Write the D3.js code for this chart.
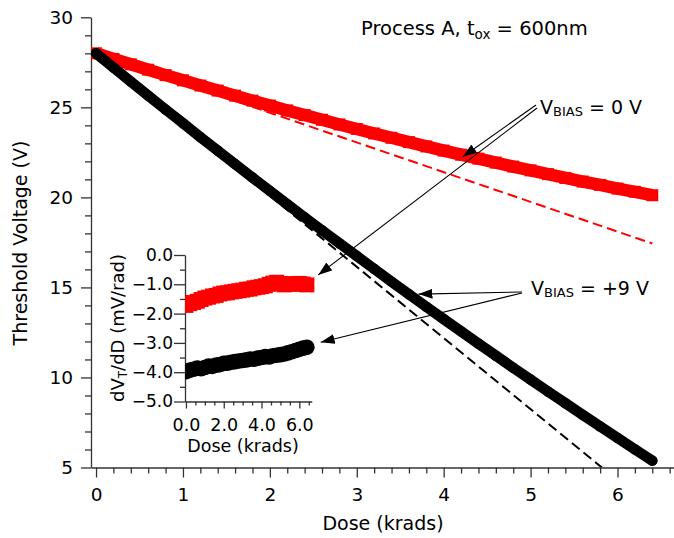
<!DOCTYPE html>
<html>
<head>
<meta charset="utf-8">
<script src="https://cdn.jsdelivr.net/npm/d3@7"></script>
<style>
  body { margin: 0; background: #fff; }
  svg { display: block; }
  text { font-family: "DejaVu Sans", Verdana, sans-serif; fill: #000; }
</style>
</head>
<body>
<svg id="chart" width="674" height="538"></svg>
<script>
// ---- Threshold voltage vs. total dose (krads) ----
const dose = [0.0, 0.2, 0.4, 0.6, 0.8, 1.0, 1.2, 1.4, 1.6, 1.8, 2.0, 2.2, 2.4, 2.6, 2.8, 3.0,
              3.2, 3.4, 3.6, 3.8, 4.0, 4.2, 4.4, 4.6, 4.8, 5.0, 5.2, 5.4, 5.6, 5.8, 6.0, 6.2, 6.4];

// V_BIAS = 0 V (red)
const vtBias0 = [28.00, 27.69, 27.39, 27.09, 26.79, 26.50, 26.21, 25.93, 25.65, 25.37, 25.10,
                 24.83, 24.57, 24.31, 24.05, 23.80, 23.55, 23.31, 23.07, 22.83, 22.60, 22.37,
                 22.15, 21.93, 21.71, 21.50, 21.29, 21.08, 20.88, 20.69, 20.49, 20.31, 20.12];

// V_BIAS = +9 V (black)
const vtBias9 = [28.00, 27.21, 26.43, 25.65, 24.88, 24.12, 23.35, 22.60, 21.85, 21.10, 20.36,
                 19.62, 18.89, 18.17, 17.45, 16.74, 16.03, 15.32, 14.62, 13.93, 13.24, 12.56,
                 11.88, 11.21, 10.54, 9.88, 9.22, 8.57, 7.92, 7.28, 6.64, 6.01, 5.38];

// Initial-slope linear fits (dashed)
const fitDose0 = [0, 6.4];
const fitVt0   = [28.0, 17.44];
const fitDose9 = [0, 5.82];
const fitVt9   = [28.0, 5.0];

// ---- Inset: dVT/dD (mV/rad) vs. dose ----
const slopeBias0 = [-1.72, -1.66, -1.62, -1.58, -1.52, -1.47, -1.44, -1.40, -1.38, -1.33, -1.30,
                    -1.29, -1.26, -1.24, -1.22, -1.20, -1.17, -1.16, -1.12, -1.10, -1.08, -1.05,
                    -1.00, -0.96, -0.93, -0.97, -1.02, -0.99, -0.98, -1.00, -0.97, -0.99, -1.02];
const slopeBias9 = [-3.98, -3.93, -3.90, -3.86, -3.88, -3.84, -3.79, -3.80, -3.76, -3.74, -3.70,
                    -3.69, -3.66, -3.64, -3.62, -3.60, -3.58, -3.55, -3.56, -3.52, -3.50, -3.47,
                    -3.48, -3.44, -3.42, -3.40, -3.38, -3.34, -3.30, -3.26, -3.22, -3.18, -3.15];

// Tick values
const mainXTicks = [0, 1, 2, 3, 4, 5, 6];
const mainXMinor = d3.range(0, 34).map(i => +(i * 0.2).toFixed(1));
const mainYTicks = [5, 10, 15, 20, 25, 30];
const mainYMinor = d3.range(5, 31);
const insetXTicks = [0, 2, 4, 6];
const insetXMinor = d3.range(0, 14).map(i => i * 0.5);
const insetYTicks = [0, -1, -2, -3, -4, -5];
const insetYMinor = d3.range(0, 11).map(i => -i * 0.5);

const RED = "#ff0000", BLACK = "#000000";

const svg = d3.select("#chart");

// ---------- main scales ----------
const x = d3.scaleLinear().domain([-0.058, 6.65]).range([91, 674]);
const y = d3.scaleLinear().domain([5, 30]).range([467.5, 17.3]);

const defs = svg.append("defs");
defs.append("clipPath").attr("id", "mainClip")
  .append("rect").attr("x", 91).attr("y", 10).attr("width", 583).attr("height", 457.5);
defs.append("marker")
  .attr("id", "arrowHead")
  .attr("markerUnits", "userSpaceOnUse")
  .attr("viewBox", "0 0 14 10")
  .attr("refX", 14).attr("refY", 5)
  .attr("markerWidth", 14).attr("markerHeight", 10)
  .attr("orient", "auto")
  .append("path").attr("d", "M0,0 L14,5 L0,10 Z").attr("fill", BLACK);

// axes
function styleAxis(g) {
  g.selectAll("path.domain").attr("stroke", "#333").attr("stroke-width", 1.3);
  g.selectAll(".tick line").attr("stroke", "#333").attr("stroke-width", 1.3);
  g.selectAll("text").attr("fill", "#000");
}

svg.append("g").attr("transform", `translate(0,${y(5)})`)
  .call(d3.axisBottom(x).tickValues(mainXTicks).tickSize(10).tickPadding(10)
        .tickSizeOuter(0).tickFormat(d3.format("d")))
  .call(g => g.selectAll("text").attr("font-size", 18.5))
  .call(styleAxis);
svg.append("g").attr("transform", `translate(0,${y(5)})`)
  .call(d3.axisBottom(x).tickValues(mainXMinor.filter(v => !mainXTicks.includes(v)))
        .tickSize(6).tickFormat(""))
  .call(g => g.select("path.domain").remove())
  .call(styleAxis);

svg.append("g").attr("transform", `translate(${x.range()[0]},0)`)
  .call(d3.axisLeft(y).tickValues(mainYTicks).tickSize(10).tickPadding(8)
        .tickSizeOuter(0).tickFormat(d3.format("d")))
  .call(g => g.selectAll("text").attr("font-size", 18.5))
  .call(styleAxis);
svg.append("g").attr("transform", `translate(${x.range()[0]},0)`)
  .call(d3.axisLeft(y).tickValues(mainYMinor.filter(v => !mainYTicks.includes(v)))
        .tickSize(6).tickFormat(""))
  .call(g => g.select("path.domain").remove())
  .call(styleAxis);

// axis titles
svg.append("text").attr("x", 383).attr("y", 530).attr("text-anchor", "middle")
  .attr("font-size", 19).text("Dose (krads)");
svg.append("text").attr("transform", "translate(27,243) rotate(-90)")
  .attr("text-anchor", "middle").attr("font-size", 19).text("Threshold Voltage (V)");

// ---------- main data ----------
const plot = svg.append("g").attr("clip-path", "url(#mainClip)");
const line = d3.line().x(d => x(d[0])).y(d => y(d[1]));

// dashed fits
plot.append("path").datum(d3.zip(fitDose0, fitVt0)).attr("d", line)
  .attr("fill", "none").attr("stroke", RED).attr("stroke-width", 2).attr("stroke-dasharray", "10,5");
plot.append("path").datum(d3.zip(fitDose9, fitVt9)).attr("d", line)
  .attr("fill", "none").attr("stroke", BLACK).attr("stroke-width", 2).attr("stroke-dasharray", "10,5");

// V_BIAS = 0 V : square markers joined into a band
const red = d3.zip(dose, vtBias0);
plot.append("path").datum(red).attr("d", line)
  .attr("fill", "none").attr("stroke", RED).attr("stroke-width", 12.5);
plot.selectAll("rect.red").data(red).join("rect").attr("class", "red")
  .attr("x", d => x(d[0]) - 6).attr("y", d => y(d[1]) - 6)
  .attr("width", 12).attr("height", 12).attr("fill", RED);

// V_BIAS = +9 V : circle markers joined into a band
const blk = d3.zip(dose, vtBias9);
plot.append("path").datum(blk).attr("d", line)
  .attr("fill", "none").attr("stroke", BLACK).attr("stroke-width", 10.5).attr("stroke-linecap", "round");
plot.selectAll("circle.blk").data(blk).join("circle").attr("class", "blk")
  .attr("cx", d => x(d[0])).attr("cy", d => y(d[1])).attr("r", 5.25).attr("fill", BLACK);

// ---------- inset ----------
const ix = d3.scaleLinear().domain([-0.05, 6.66]).range([185, 311.8]);
const iy = d3.scaleLinear().domain([-5, 0]).range([401.5, 255]);

defs.append("clipPath").attr("id", "insetClip")
  .append("rect").attr("x", 185).attr("y", 240).attr("width", 140).attr("height", 161.5);

svg.append("g").attr("transform", `translate(0,${iy(-5)})`)
  .call(d3.axisBottom(ix).tickValues(insetXTicks).tickSize(7).tickPadding(10)
        .tickSizeOuter(0).tickFormat(d3.format(".1f")))
  .call(g => g.selectAll("text").attr("font-size", 17.5))
  .call(styleAxis);
svg.append("g").attr("transform", `translate(0,${iy(-5)})`)
  .call(d3.axisBottom(ix).tickValues(insetXMinor.filter(v => !insetXTicks.includes(v)))
        .tickSize(4).tickFormat(""))
  .call(g => g.select("path.domain").remove())
  .call(styleAxis);

svg.append("g").attr("transform", `translate(${ix.range()[0]},0)`)
  .call(d3.axisLeft(iy).tickValues(insetYTicks).tickSize(11).tickPadding(1)
        .tickSizeOuter(0).tickFormat(d3.format(".1f")))
  .call(g => g.selectAll("text").attr("font-size", 17))
  .call(styleAxis);
svg.append("g").attr("transform", `translate(${ix.range()[0]},0)`)
  .call(d3.axisLeft(iy).tickValues(insetYMinor.filter(v => !insetYTicks.includes(v)))
        .tickSize(5).tickFormat(""))
  .call(g => g.select("path.domain").remove())
  .call(styleAxis);

svg.append("text").attr("x", 243).attr("y", 452).attr("text-anchor", "middle")
  .attr("font-size", 17.5).text("Dose (krads)");
const iyt = svg.append("text").attr("transform", "translate(124,328) rotate(-90)")
  .attr("text-anchor", "middle").attr("font-size", 18);
iyt.append("tspan").text("dV");
iyt.append("tspan").attr("font-size", 12).attr("dy", 3).text("T");
iyt.append("tspan").attr("dy", -3).text("/dD (mV/rad)");

const inset = svg.append("g").attr("clip-path", "url(#insetClip)");
inset.selectAll("rect.ired").data(d3.zip(dose, slopeBias0)).join("rect").attr("class", "ired")
  .attr("x", d => ix(d[0]) - 7.5).attr("y", d => iy(d[1]) - 7.5)
  .attr("width", 15).attr("height", 15).attr("fill", RED);
inset.selectAll("circle.iblk").data(d3.zip(dose, slopeBias9)).join("circle").attr("class", "iblk")
  .attr("cx", d => ix(d[0])).attr("cy", d => iy(d[1])).attr("r", 7.8).attr("fill", BLACK);

// ---------- annotations ----------
const title = svg.append("text").attr("x", 361).attr("y", 35).attr("font-size", 19.5);
title.append("tspan").text("Process A, t");
title.append("tspan").attr("font-size", 13.5).attr("dy", 4).text("ox");
title.append("tspan").attr("dy", -4).text(" = 600nm");

function biasLabel(px, py, value) {
  const t = svg.append("text").attr("x", px).attr("y", py).attr("font-size", 19);
  t.append("tspan").text("V");
  t.append("tspan").attr("font-size", 13).attr("dy", 2).text("BIAS");
  t.append("tspan").attr("dy", -2).text(" = " + value);
}
biasLabel(540, 114, "0 V");
biasLabel(531, 295, "+9 V");

function arrow(x1, y1, x2, y2) {
  svg.append("line").attr("x1", x1).attr("y1", y1).attr("x2", x2).attr("y2", y2)
    .attr("stroke", BLACK).attr("stroke-width", 1.1).attr("marker-end", "url(#arrowHead)");
}
// V_BIAS = 0 V -> main red curve and inset red data
arrow(536, 105, x(4.22), y(22.26));
arrow(537, 108, ix(7.0), iy(-0.68));
// V_BIAS = +9 V -> main black curve and inset black data
arrow(522, 292, x(3.71), y(14.63));
arrow(522, 293, ix(7.13), iy(-2.98));
</script>
</body>
</html>
